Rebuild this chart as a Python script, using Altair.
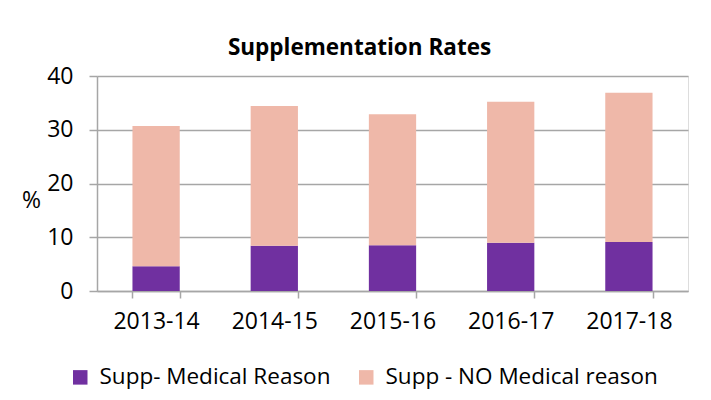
import altair as alt
import pandas as pd

years = ["2013-14", "2014-15", "2015-16", "2016-17", "2017-18"]
medical = [4.6, 8.4, 8.5, 9.0, 9.1]
no_medical = [26.1, 26.0, 24.4, 26.2, 27.8]
series = ["Supp- Medical Reason", "Supp - NO Medical reason"]
colors = ["#7030A0", "#EFB8A9"]
y_ticks = [0, 10, 20, 30, 40]

rows = []
for i, yr in enumerate(years):
    rows.append({"year": yr, "series": series[0], "value": medical[i], "idx": 0})
    rows.append({"year": yr, "series": series[1], "value": no_medical[i], "idx": 1})
df = pd.DataFrame(rows)

FONT = "Open Sans"
GRID = "#A6A6A6"

chart = alt.Chart(df).mark_bar().encode(
    x=alt.X("year:N", sort=years, title=None,
            scale=alt.Scale(paddingInner=0.6, paddingOuter=0.3),
            axis=alt.Axis(labelAngle=0, tickBand="extent", grid=False,
                          domainColor=GRID, domainWidth=1.5, tickColor=GRID,
                          tickWidth=1.5, tickSize=7, labelPadding=12,
                          labelFontSize=23, labelFont=FONT, labelColor="black")),
    y=alt.Y("value:Q", stack="zero", scale=alt.Scale(domain=[0, 40], nice=False),
            axis=alt.Axis(values=y_ticks, title="%", titleAngle=0, titleX=-66, titleY=124,
                          titleAlign="center", titleBaseline="middle", titleFontSize=23,
                          titleFont=FONT, titleFontWeight="normal", titleColor="black",
                          grid=True, gridColor=GRID, gridWidth=1.5,
                          domainColor=GRID, domainWidth=1.5, tickColor=GRID, tickWidth=1.5,
                          tickSize=8, labelPadding=16, labelFontSize=23, labelFont=FONT,
                          labelColor="black")),
    color=alt.Color("series:N", scale=alt.Scale(domain=series, range=colors),
                    legend=alt.Legend(title=None, orient="none", direction="horizontal",
                                      legendX=-28, legendY=290, symbolType="square",
                                      symbolSize=210, symbolStrokeWidth=0, labelFontSize=22.5,
                                      labelFont=FONT, labelColor="black", columnPadding=24,
                                      labelOffset=8, padding=0, symbolOpacity=1,
                                      labelLimit=0)),
    order=alt.Order("idx:Q"),
).properties(
    width=591, height=215,
    title=alt.TitleParams("Supplementation Rates", fontSize=22.5, font=FONT, fontWeight="bold",
                          color="black", frame="group", anchor="middle", dx=-33, offset=6),
    autosize=alt.AutoSizeParams(type="none"),
    padding={"left": 89, "top": 68, "right": 15, "bottom": 101},
).configure_view(stroke=None).configure(background="white")

chart.save("out.html", embed_options={"renderer": "svg", "actions": False})
